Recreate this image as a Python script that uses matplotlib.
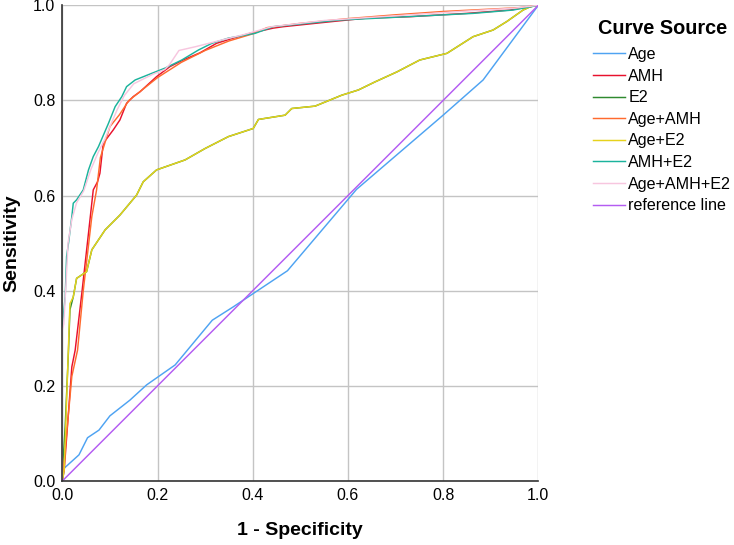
import matplotlib
matplotlib.use("Agg")
import matplotlib.pyplot as plt

plt.rcParams['font.family'] = ['Liberation Sans', 'DejaVu Sans']

# ---- data ----
age_x = [0.0, 0.004, 0.035, 0.053, 0.077, 0.10, 0.142, 0.177, 0.237, 0.315, 0.359, 0.473, 0.618, 0.80, 0.884, 1.0]
age_y = [0.0, 0.027, 0.055, 0.091, 0.107, 0.137, 0.170, 0.202, 0.244, 0.338, 0.366, 0.442, 0.613, 0.769, 0.843, 1.0]

amh_x = [0.0, 0.004, 0.02, 0.027, 0.041, 0.055, 0.065, 0.074, 0.079, 0.086, 0.107, 0.121, 0.135, 0.149, 0.163, 0.198, 0.226, 0.254, 0.289, 0.324, 0.359, 0.394, 0.443, 0.464, 0.569, 0.639, 0.73, 0.85, 0.94, 1.0]
amh_y = [0.0, 0.023, 0.24, 0.275, 0.395, 0.521, 0.612, 0.629, 0.647, 0.71, 0.738, 0.759, 0.794, 0.808, 0.818, 0.850, 0.871, 0.885, 0.90, 0.92, 0.931, 0.941, 0.952, 0.955, 0.966, 0.973, 0.976, 0.983, 0.99, 1.0]

e2_x = [0.0, 0.002, 0.006, 0.013, 0.016, 0.023, 0.030, 0.051, 0.062, 0.090, 0.121, 0.156, 0.170, 0.198, 0.258, 0.30, 0.349, 0.401, 0.412, 0.468, 0.482, 0.531, 0.587, 0.622, 0.657, 0.703, 0.751, 0.808, 0.863, 0.905, 0.934, 0.968, 0.983, 1.0]
e2_y = [0.0, 0.05, 0.114, 0.275, 0.36, 0.387, 0.426, 0.44, 0.486, 0.528, 0.559, 0.601, 0.629, 0.654, 0.675, 0.699, 0.724, 0.741, 0.760, 0.769, 0.783, 0.788, 0.811, 0.822, 0.839, 0.86, 0.885, 0.899, 0.934, 0.948, 0.966, 0.99, 0.997, 1.0]

ageamh_x = [0.0, 0.006, 0.02, 0.032, 0.044, 0.062, 0.072, 0.08, 0.10, 0.12, 0.14, 0.165, 0.20, 0.25, 0.30, 0.35, 0.40, 0.43, 0.50, 0.60, 0.70, 0.80, 0.90, 0.96, 1.0]
ageamh_y = [0.0, 0.065, 0.22, 0.275, 0.40, 0.556, 0.612, 0.68, 0.745, 0.77, 0.80, 0.82, 0.848, 0.88, 0.905, 0.925, 0.94, 0.953, 0.962, 0.972, 0.98, 0.987, 0.992, 0.995, 1.0]

agee2_x = [0.0, 0.004, 0.016, 0.023, 0.030, 0.051, 0.062, 0.090, 0.121, 0.156, 0.170, 0.198, 0.258, 0.30, 0.349, 0.401, 0.412, 0.468, 0.482, 0.531, 0.587, 0.622, 0.657, 0.703, 0.751, 0.808, 0.863, 0.905, 0.934, 0.968, 0.983, 1.0]
agee2_y = [0.0, 0.023, 0.373, 0.387, 0.426, 0.44, 0.486, 0.528, 0.559, 0.601, 0.629, 0.654, 0.675, 0.699, 0.724, 0.741, 0.760, 0.769, 0.783, 0.788, 0.811, 0.822, 0.839, 0.86, 0.885, 0.899, 0.934, 0.948, 0.966, 0.99, 0.997, 1.0]

amhe2_x = [0.0, 0.0, 0.002, 0.006, 0.009, 0.013, 0.02, 0.023, 0.03, 0.044, 0.055, 0.065, 0.076, 0.097, 0.111, 0.125, 0.135, 0.153, 0.188, 0.216, 0.251, 0.286, 0.314, 0.349, 0.405, 0.443, 0.583, 0.724, 0.863, 0.947, 1.0]
amhe2_y = [0.0, 0.328, 0.345, 0.387, 0.472, 0.50, 0.556, 0.584, 0.591, 0.612, 0.654, 0.682, 0.703, 0.752, 0.787, 0.808, 0.829, 0.843, 0.857, 0.868, 0.885, 0.906, 0.92, 0.931, 0.941, 0.955, 0.969, 0.976, 0.983, 0.99, 1.0]

all3_x = [0.0, 0.0, 0.003, 0.008, 0.012, 0.02, 0.03, 0.045, 0.06, 0.075, 0.09, 0.10, 0.115, 0.13, 0.15, 0.19, 0.215, 0.225, 0.237, 0.245, 0.28, 0.335, 0.38, 0.44, 0.55, 0.70, 0.85, 0.95, 1.0]
all3_y = [0.0, 0.317, 0.33, 0.42, 0.50, 0.55, 0.585, 0.61, 0.655, 0.69, 0.72, 0.745, 0.78, 0.81, 0.835, 0.855, 0.865, 0.875, 0.893, 0.905, 0.913, 0.927, 0.938, 0.955, 0.968, 0.978, 0.988, 0.994, 1.0]

ref_x = [0.0, 1.0]
ref_y = [0.0, 1.0]

names = ["Age", "AMH", "E2", "Age+AMH", "Age+E2", "AMH+E2", "Age+AMH+E2", "reference line"]
colors = ["#4ea3f2", "#e8112d", "#2f8a2f", "#ff6a2e", "#e6d21c", "#1bb39c", "#f7c6df", "#b45cf2"]
series = [(age_x, age_y), (amh_x, amh_y), (e2_x, e2_y), (ageamh_x, ageamh_y),
          (agee2_x, agee2_y), (amhe2_x, amhe2_y), (all3_x, all3_y), (ref_x, ref_y)]
ticks = [0.0, 0.2, 0.4, 0.6, 0.8, 1.0]
tick_labels = ["0.0", "0.2", "0.4", "0.6", "0.8", "1.0"]

fig = plt.figure(figsize=(7.34, 5.45), dpi=100)
ax = fig.add_axes([0.0849, 0.1174, 0.7334 - 0.0849, 0.9903 - 0.1174])

handles = []
for (xs, ys), name, c in zip(series, names, colors):
    ln, = ax.plot(xs, ys, color=c, lw=1.05, label=name)
    handles.append(ln)

ax.set_xlim(0, 1)
ax.set_ylim(0, 1)
ax.set_xticks(ticks)
ax.set_xticklabels(tick_labels)
ax.set_yticks(ticks)
ax.set_yticklabels(tick_labels)
ax.tick_params(length=0, labelsize=11.5, pad=5)
ax.grid(True, color="#c4c4c4", lw=1.0)
ax.set_axisbelow(True)
for s in ["top", "right"]:
    ax.spines[s].set_visible(False)
for s in ["left", "bottom"]:
    ax.spines[s].set_color("#333333")
    ax.spines[s].set_linewidth(1.2)

ax.set_xlabel("1 - Specificity", fontsize=14, fontweight="bold", labelpad=14)
ax.set_ylabel("Sensitivity", fontsize=14, fontweight="bold", labelpad=9)

fig.text(598 / 734, 1 - 28 / 545, "Curve Source", fontsize=14.3, fontweight="bold",
         ha="left", va="center")
leg = ax.legend(handles=handles, loc="upper left", bbox_to_anchor=(593 / 734, 1 - 47 / 545),
                bbox_transform=fig.transFigure, frameon=False, fontsize=11.6,
                handlelength=2.0, handletextpad=0.2, labelspacing=0.41,
                borderaxespad=0, borderpad=0)

fig.savefig("out.png", dpi=100)
